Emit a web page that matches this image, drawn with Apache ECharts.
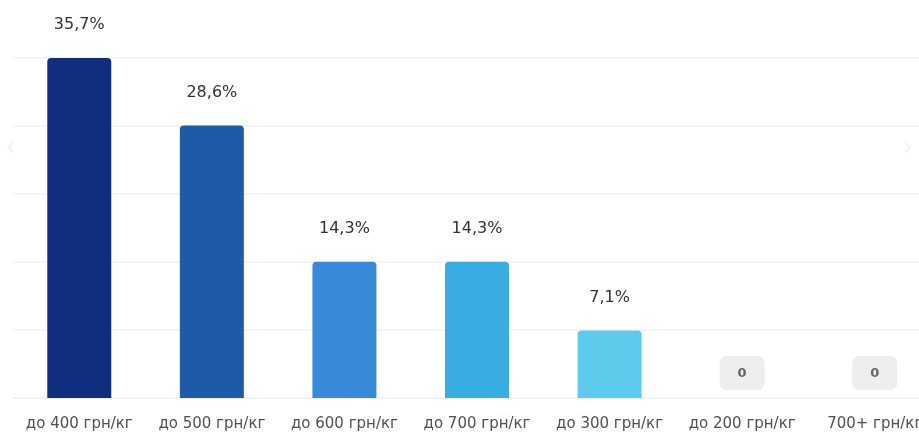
<!DOCTYPE html>
<html>
<head>
<meta charset="utf-8">
<script src="https://cdn.jsdelivr.net/npm/echarts@6/dist/echarts.min.js"></script>
<style>
  html, body { margin: 0; padding: 0; background: #fff; overflow: hidden; }
  #chart { width: 941px; height: 433px; }
</style>
</head>
<body>
<div id="chart"></div>
<script>
var categories = ['до 400 грн/кг', 'до 500 грн/кг', 'до 600 грн/кг', 'до 700 грн/кг', 'до 300 грн/кг', 'до 200 грн/кг', '700+ грн/кг'];
var shares = [35.7, 28.6, 14.3, 14.3, 7.1, 0, 0];
var barColors = ['#112d7e', '#1f5aa9', '#388ad8', '#39ace4', '#5ecbec', '#eeeeee', '#eeeeee'];

var data = [];
for (var i = 0; i < shares.length; i++) {
  var item = {
    value: shares[i],
    itemStyle: { color: barColors[i] }
  };
  if (shares[i] === 0) {
    // нулевые значения показываем серой плашкой
    item.label = {
      formatter: '0',
      backgroundColor: '#eeeeee',
      borderRadius: 7,
      padding: [11, 18, 10, 18],
      color: '#666',
      fontWeight: 'bold',
      fontSize: 13,
      distance: 8
    };
  }
  data.push(item);
}

var myChart = echarts.init(document.getElementById('chart'));
myChart.setOption({
  animation: false,
  textStyle: { fontFamily: 'DejaVu Sans' },
  grid: { left: 13, right: 0, top: 58, bottom: 35 },
  xAxis: {
    type: 'category',
    data: categories,
    axisLine: { show: true, lineStyle: { color: '#eef0f3' } },
    axisTick: { show: false },
    axisLabel: { color: '#505050', fontSize: 15, margin: 19, interval: 0 }
  },
  yAxis: {
    type: 'value',
    min: 0,
    max: 35.7,
    interval: 7.14,
    axisLabel: { show: false },
    splitLine: { lineStyle: { color: '#eef0f3', width: 1.5 } }
  },
  graphic: [
    { type: 'text', left: 6, top: 132, style: { text: '‹', fontSize: 30, fill: '#f4f4f4' } },
    { type: 'text', left: 902, top: 132, style: { text: '›', fontSize: 30, fill: '#f4f4f4' } }
  ],
  series: [{
    type: 'bar',
    barWidth: 64,
    data: data,
    itemStyle: { borderRadius: [4, 4, 0, 0] },
    label: {
      show: true,
      position: 'top',
      distance: 25,
      color: '#333',
      fontSize: 16,
      formatter: function (p) {
        return String(p.value).replace('.', ',') + '%';
      }
    }
  }]
});
</script>
</body>
</html>
